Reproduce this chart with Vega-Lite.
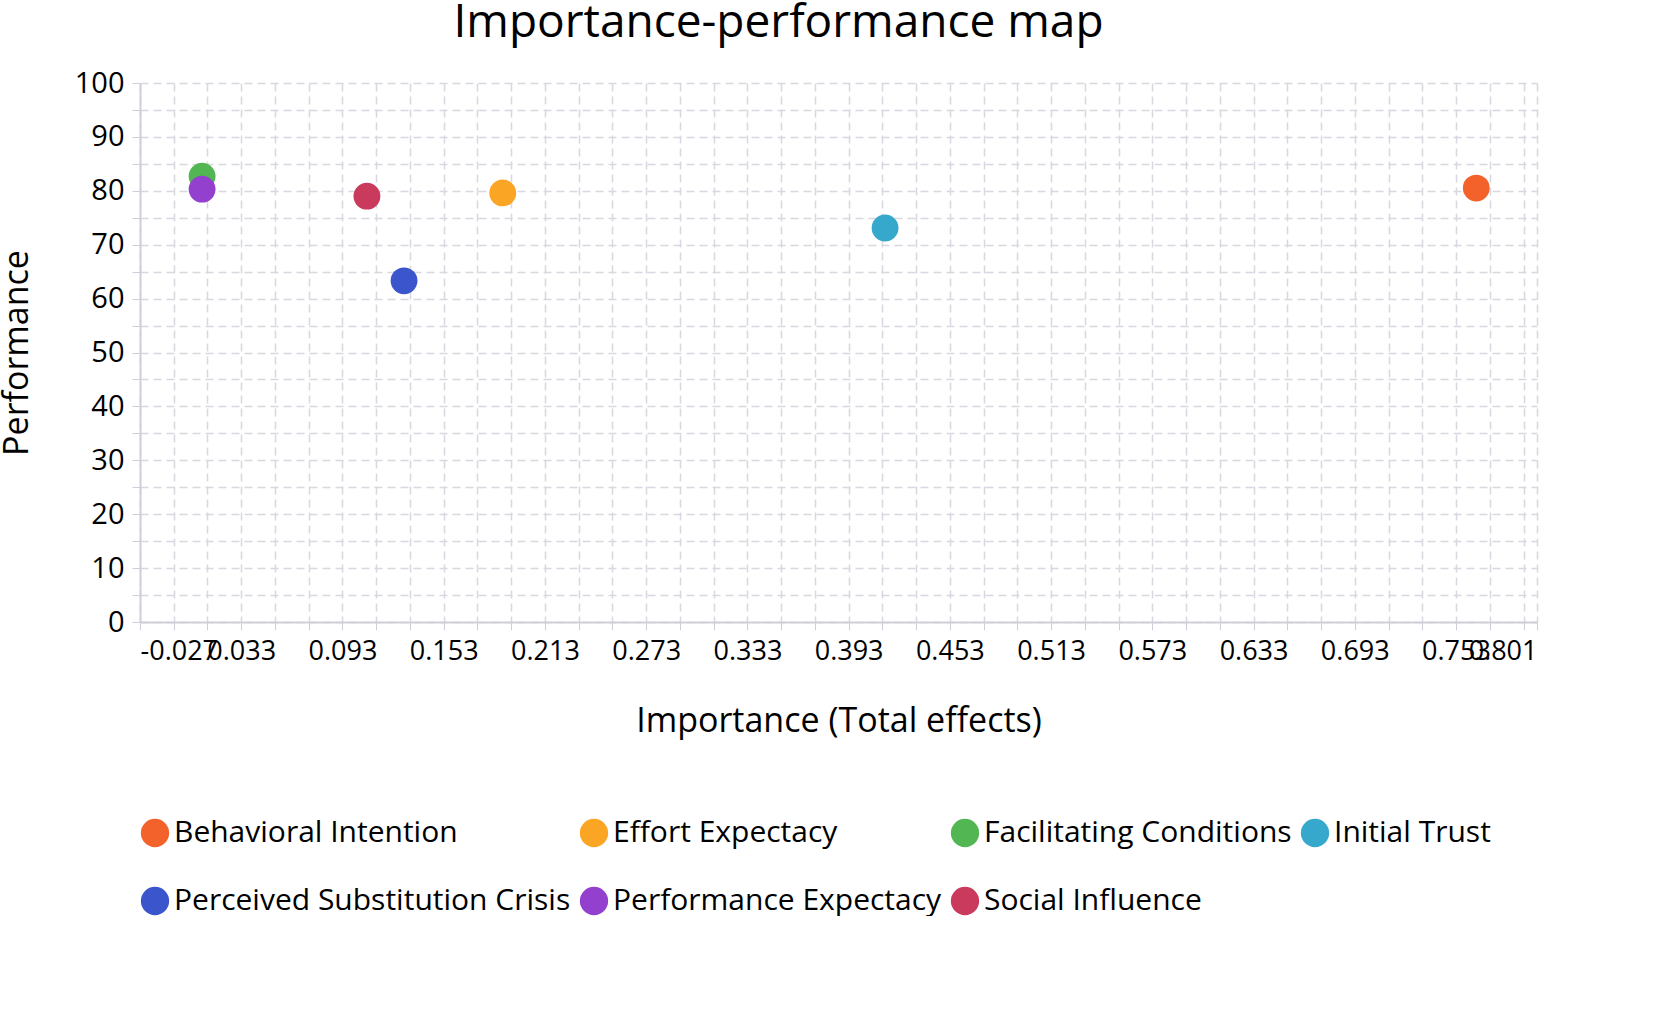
{
  "$schema": "https://vega.github.io/schema/vega-lite/v6.json",
  "width": 1397,
  "height": 539,
  "padding": {"left": 0, "top": 0, "right": 10, "bottom": 0},
  "background": "white",
  "title": {"text": "Importance-performance map", "fontSize": 46, "font": "Open Sans", "fontWeight": "normal", "color": "black", "offset": 22, "dx": -60},
  "data": {
    "values": [
      {"name": "Behavioral Intention", "importance": 0.765, "performance": 80.5},
      {"name": "Effort Expectacy", "importance": 0.188, "performance": 79.6},
      {"name": "Facilitating Conditions", "importance": 0.0098, "performance": 82.7},
      {"name": "Initial Trust", "importance": 0.4146, "performance": 73.1},
      {"name": "Perceived Substitution Crisis", "importance": 0.1295, "performance": 63.3},
      {"name": "Performance Expectacy", "importance": 0.0098, "performance": 80.3},
      {"name": "Social Influence", "importance": 0.1075, "performance": 79.0}
    ]
  },
  "mark": {"type": "circle", "size": 720, "opacity": 1},
  "encoding": {
    "x": {
      "field": "importance", "type": "quantitative",
      "title": "Importance (Total effects)",
      "scale": {"domain": [-0.027, 0.801], "nice": false, "zero": false},
      "axis": {
        "values": [-0.027,-0.007,0.013,0.033,0.053,0.073,0.093,0.113,0.133,0.153,0.173,0.193,0.213,0.233,0.253,0.273,0.293,0.313,0.333,0.353,0.373,0.393,0.413,0.433,0.453,0.473,0.493,0.513,0.533,0.553,0.573,0.593,0.613,0.633,0.653,0.673,0.693,0.713,0.733,0.753,0.773,0.793,0.801],
        "labelExpr": "(datum.value > 0.8 || round((datum.value + 0.027) / 0.02) % 3 == 0) ? replace(format(datum.value, '.3f'), '\u2212', '-') : ''",
        "labelOverlap": false,
        "labelBound": false,
        "labelFontSize": 27,
        "titlePadding": 40
      }
    },
    "y": {
      "field": "performance", "type": "quantitative",
      "title": "Performance",
      "scale": {"domain": [0, 100], "nice": false},
      "axis": {
        "values": [0,5,10,15,20,25,30,35,40,45,50,55,60,65,70,75,80,85,90,95,100],
        "labelExpr": "datum.value % 10 == 0 ? datum.label : ''",
        "labelOverlap": false,
        "titlePadding": 40
      }
    },
    "color": {
      "field": "name", "type": "nominal",
      "scale": {
        "domain": ["Behavioral Intention","Effort Expectacy","Facilitating Conditions","Initial Trust","Perceived Substitution Crisis","Performance Expectacy","Social Influence"],
        "range": ["#f4622c","#fba524","#52b753","#36a8cc","#3b55cc","#9440cf","#c93a5c"]
      },
      "legend": {
        "orient": "bottom", "title": null, "columns": 4, "direction": "horizontal",
        "symbolType": "circle", "symbolSize": 800, "symbolOpacity": 1,
        "labelFontSize": 30, "labelFont": "Open Sans", "labelColor": "black",
        "columnPadding": 8, "rowPadding": 38, "offset": 80, "labelLimit": 600
      }
    }
  },
  "config": {
    "view": {"stroke": null},
    "axis": {
      "grid": true, "gridDash": [8, 5], "gridColor": "#d8d8e0", "gridWidth": 1.5,
      "domainColor": "#cfcfda", "domainWidth": 2, "tickColor": "#cfcfda", "tickSize": 8,
      "labelFontSize": 29, "labelFont": "Open Sans", "labelColor": "black",
      "titleFontSize": 34, "titleFont": "Open Sans", "titleFontWeight": "normal", "titleColor": "black",
      "labelPadding": 8
    }
  }
}
